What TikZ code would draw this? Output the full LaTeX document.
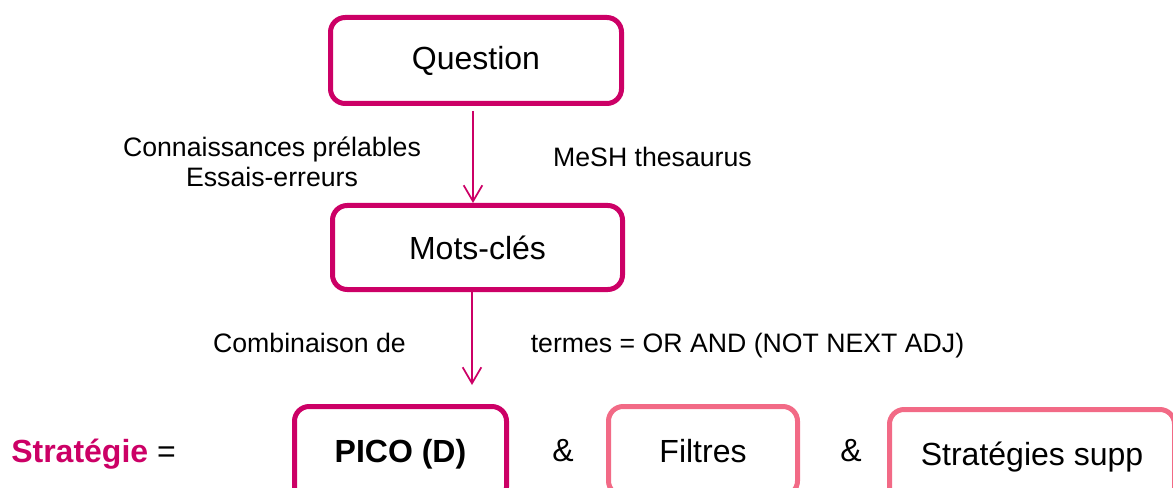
\documentclass[tikz,border=0pt]{standalone}
\usepackage{fontspec}
\setmainfont{Liberation Sans}
\usetikzlibrary{arrows.meta}
\definecolor{mag}{RGB}{204,0,102}
\definecolor{pnk}{RGB}{242,106,134}
\begin{document}
\begin{tikzpicture}[x=0.75pt,y=-0.75pt,
  box/.style={draw=mag, line width=3.75pt, rounded corners=11pt, inner sep=0pt,
    font=\fontsize{24pt}{28pt}\selectfont},
  pbox/.style={box, draw=pnk},
  lbl/.style={font=\fontsize{20pt}{22.5pt}\selectfont, inner sep=0pt},
  big/.style={font=\fontsize{24pt}{28pt}\selectfont, inner sep=0pt},
  arr/.style={draw=mag, line width=1.3pt, -{Straight Barb[length=12pt,width=14pt]}}]
\useasboundingbox (0,0) rectangle (1173,488);
\clip (0,0) rectangle (1173,488);
% boxes
\node[box, minimum width=218.25pt, minimum height=64.5pt] (q) at (476,60.5) {Question};
\node[box, minimum width=217.5pt, minimum height=63pt] (m) at (477.5,247.5) {Mots-clés};
\node[box, minimum width=159pt, minimum height=71.25pt] (pico) at (400.5,454) {\textbf{PICO (D)}};
\node[pbox, minimum width=141.75pt, minimum height=66.75pt] (filt) at (703,451) {Filtres};
\node[pbox, minimum width=213.75pt, minimum height=71.25pt] (supp) at (1032,457) {Stratégies supp};
% arrows
\coordinate (e1) at (473,0);
\coordinate (e2) at (472,385);
\draw[arr] ([yshift=-3.75pt]e1 |- q.south) -- (e1 |- m.north);
\draw[arr] (e2 |- m.south) -- (e2);
% labels
\node[lbl, align=center] (kn) at (272,162) {Connaissances prélables\\Essais-erreurs};
\node[lbl, anchor=base] (mesh) at (652.5,167) {MeSH thesaurus};
\node[lbl, anchor=base] (comb) at (309.5,352) {Combinaison de};
\node[lbl, anchor=base] (term) at (747.5,352) {termes = OR AND (NOT NEXT ADJ)};
\node[big, anchor=base west] (strat) at (11,462) {\textcolor{mag}{\textbf{Stratégie}} =};
\node[big, anchor=base] (amp1) at (563,461) {\&};
\node[big, anchor=base] (amp2) at (851,461) {\&};
\end{tikzpicture}
\end{document}
